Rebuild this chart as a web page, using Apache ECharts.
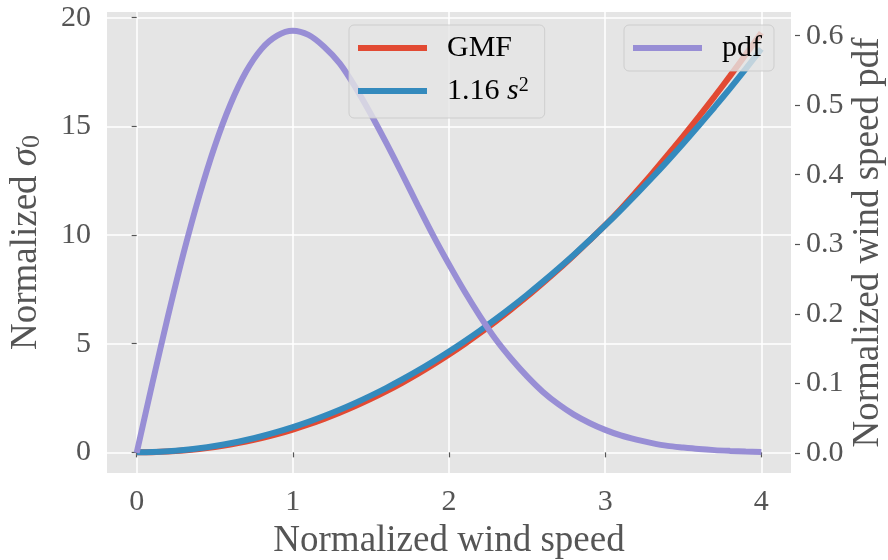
<!DOCTYPE html>
<html>
<head>
<meta charset="utf-8">
<script src="https://cdn.jsdelivr.net/npm/echarts@6/dist/echarts.min.js"></script>
<style>
  html, body { margin: 0; padding: 0; background: #ffffff; }
  #chart { width: 888px; height: 560px; }
</style>
</head>
<body>
<div id="chart"></div>
<script>
// Normalized wind speed samples
const windSpeed = [
  0.0, 0.1, 0.2, 0.3, 0.4, 0.5, 0.6, 0.7, 0.8, 0.9,
  1.0, 1.1, 1.2, 1.3, 1.4, 1.5, 1.6, 1.7, 1.8, 1.9,
  2.0, 2.1, 2.2, 2.3, 2.4, 2.5, 2.6, 2.7, 2.8, 2.9,
  3.0, 3.1, 3.2, 3.3, 3.4, 3.5, 3.6, 3.7, 3.8, 3.9,
  4.0
];

// Normalized sigma0 from the geophysical model function
const gmf = [
  0.000, 0.008, 0.036, 0.084, 0.153, 0.245, 0.359, 0.497, 0.657, 0.841,
  1.050, 1.283, 1.540, 1.822, 2.128, 2.460, 2.817, 3.200, 3.608, 4.042,
  4.502, 4.987, 5.499, 6.030, 6.590, 7.170, 7.780, 8.410, 9.070, 9.750,
  10.450, 11.200, 12.000, 12.820, 13.680, 14.550, 15.450, 16.370, 17.320, 18.300,
  19.300
];

// Quadratic approximation 1.16 s^2
const quadFit = [
  0.000, 0.012, 0.046, 0.104, 0.186, 0.290, 0.418, 0.568, 0.742, 0.940,
  1.160, 1.404, 1.670, 1.960, 2.274, 2.610, 2.970, 3.352, 3.758, 4.188,
  4.640, 5.116, 5.614, 6.136, 6.682, 7.250, 7.842, 8.456, 9.094, 9.756,
  10.440, 11.148, 11.878, 12.632, 13.410, 14.210, 15.034, 15.880, 16.750, 17.644,
  18.560
];

// Normalized wind speed probability density
const pdf = [
  0.000, 0.0995, 0.196, 0.287, 0.369, 0.441, 0.501, 0.548, 0.581, 0.600,
  0.607, 0.601, 0.584, 0.560, 0.526, 0.487, 0.445, 0.401, 0.356, 0.312,
  0.271, 0.232, 0.196, 0.163, 0.135, 0.110, 0.088, 0.070, 0.055, 0.043,
  0.033, 0.025, 0.019, 0.014, 0.010, 0.0076, 0.0055, 0.0039, 0.0028, 0.0019,
  0.0013
];

// Tick positions
const xTicks = [0, 1, 2, 3, 4];
const sigmaTicks = [0, 5, 10, 15, 20];
const pdfTicks = [0.0, 0.1, 0.2, 0.3, 0.4, 0.5, 0.6];

const seriesNames = ['GMF', '1.16 s2', 'pdf'];

const FONT = "'Liberation Serif', 'Times New Roman', serif";
const GREY = '#555555';

const pairs = (ys) => windSpeed.map((x, i) => [x, ys[i]]);

const tickStyle = { show: true, length: 5, lineStyle: { color: GREY, width: 1.2 } };
const labelStyle = { color: GREY, fontSize: 30, fontFamily: FONT };
const gridLine = { show: true, lineStyle: { color: '#ffffff', width: 1.5 } };
const titleStyle = { color: GREY, fontSize: 37, fontFamily: FONT };

const legendBox = {
  orient: 'vertical',
  icon: 'rect',
  itemWidth: 69,
  itemHeight: 6,
  itemGap: 13,
  backgroundColor: 'rgba(229,229,229,0.8)',
  borderColor: 'rgba(200,200,200,0.8)',
  borderWidth: 1,
  borderRadius: 5,
  padding: [8, 16, 12, 9],
  textStyle: {
    color: '#000000', fontSize: 30, fontFamily: FONT, lineHeight: 30,
    padding: [0, 0, 0, 15],
    rich: {
      n: { color: '#000', fontSize: 30, fontFamily: FONT, lineHeight: 30 },
      i: { color: '#000', fontSize: 30, fontFamily: FONT, fontStyle: 'italic', lineHeight: 30 },
      sup: { color: '#000', fontSize: 20, fontFamily: FONT, verticalAlign: 'top', lineHeight: 14 }
    }
  },
  formatter: (name) => name === '1.16 s2' ? '{n|1.16 }{i|s}{sup|2}' : name
};

const lineSeries = (name, axis, ys, color) => ({
  name, type: 'line', yAxisIndex: axis, data: pairs(ys),
  showSymbol: false, smooth: 0.3,
  lineStyle: { color, width: 6 }, itemStyle: { color }, z: 2
});

const chart = echarts.init(document.getElementById('chart'), null, { renderer: 'canvas' });

chart.setOption({
  animation: false,
  backgroundColor: '#ffffff',
  grid: {
    left: 107, right: 97, top: 12, bottom: 87,
    outerBoundsMode: 'none', containLabel: false,
    show: true, backgroundColor: '#E5E5E5', borderWidth: 0
  },
  legend: [
    Object.assign({}, legendBox, { data: [seriesNames[0], seriesNames[1]], left: 349, top: 25 }),
    Object.assign({}, legendBox, { data: [seriesNames[2]], left: 624, top: 25, padding: [8, 12, 8, 9] })
  ],
  xAxis: {
    type: 'value', min: -0.19, max: 4.19, offset: 4,
    axisLine: { show: false },
    axisTick: Object.assign({ customValues: xTicks }, tickStyle),
    axisLabel: Object.assign({ customValues: xTicks, margin: 10 }, labelStyle),
    splitLine: Object.assign({ customValues: xTicks }, gridLine),
    name: 'Normalized wind speed', nameLocation: 'middle', nameGap: 46,
    nameTextStyle: titleStyle
  },
  yAxis: [
    {
      type: 'value', position: 'left', min: -0.95, max: 20.26, offset: 4,
      axisLine: { show: false },
      axisTick: Object.assign({ customValues: sigmaTicks }, tickStyle),
      axisLabel: Object.assign({ customValues: sigmaTicks, margin: 12 }, labelStyle),
      splitLine: Object.assign({ customValues: sigmaTicks }, gridLine),
      name: '{n|Normalized }{s|σ}{sub|0}', nameLocation: 'middle', nameGap: 58, nameRotate: 90,
      nameTextStyle: Object.assign({}, titleStyle, {
        rich: {
          n: titleStyle,
          s: Object.assign({}, titleStyle, { fontStyle: 'italic' }),
          sub: Object.assign({}, titleStyle, { fontSize: 26, verticalAlign: 'bottom', lineHeight: 20 })
        }
      })
    },
    {
      type: 'value', position: 'right', min: -0.029, max: 0.634, offset: 4,
      axisLine: { show: false },
      axisTick: Object.assign({ customValues: pdfTicks }, tickStyle),
      axisLabel: Object.assign({ customValues: pdfTicks, margin: 11, formatter: (v) => v.toFixed(1) }, labelStyle),
      splitLine: { show: false },
      name: 'Normalized wind speed pdf', nameLocation: 'middle', nameGap: 55, nameRotate: 90,
      nameMoveOverlap: false,
      nameTextStyle: titleStyle
    }
  ],
  series: [
    lineSeries(seriesNames[0], 0, gmf, '#E24A33'),
    lineSeries(seriesNames[1], 0, quadFit, '#348ABD'),
    lineSeries(seriesNames[2], 1, pdf, '#988ED5')
  ]
});
</script>
</body>
</html>
